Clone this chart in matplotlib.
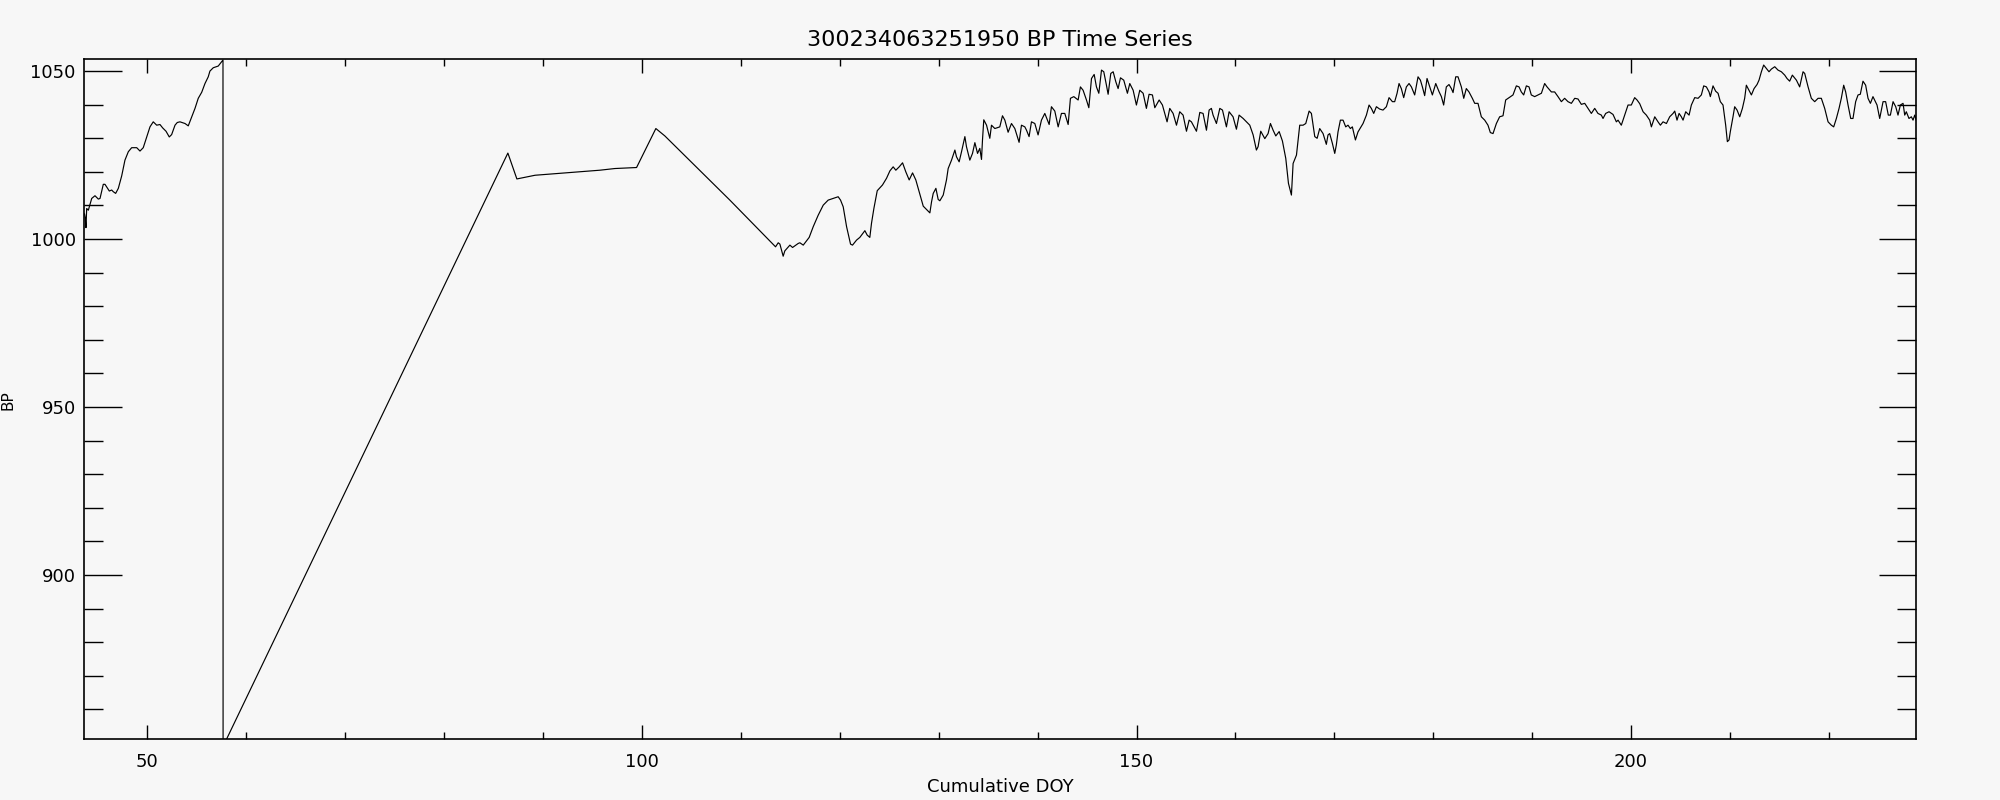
import matplotlib
matplotlib.use("Agg")
import matplotlib.pyplot as plt
from matplotlib.ticker import MultipleLocator

# data (cumulative day of year, barometric pressure)
doy_early = [43.65, 43.73, 43.80, 43.87, 44.04, 44.38, 44.71, 45.05, 45.22, 45.55, 45.72,
             46.16, 46.40, 46.56, 46.80, 47.07, 47.41, 47.74, 48.08, 48.42, 48.93, 49.26,
             49.59, 49.94, 50.27, 50.60, 50.95, 51.28, 51.55, 51.89, 52.22, 52.46, 52.80,
             53.03, 53.30, 53.81, 54.14, 54.49, 54.82, 55.15, 55.50, 55.83, 56.16, 56.33,
             56.67, 57.17, 57.52, 57.65]
bp_early = [1007.5, 1006.2, 1003.4, 1009.1, 1008.6, 1012.1, 1012.9, 1011.9, 1012.1, 1016.3,
            1016.3, 1014.3, 1014.6, 1014.1, 1013.6, 1015.1, 1018.8, 1023.5, 1026.0, 1027.2,
            1027.2, 1026.2, 1027.2, 1030.4, 1033.4, 1034.9, 1033.9, 1034.1, 1033.1, 1032.1,
            1030.4, 1031.1, 1033.9, 1034.7, 1034.9, 1034.4, 1033.7, 1036.4, 1038.9, 1041.9,
            1043.7, 1046.3, 1048.3, 1050.0, 1051.0, 1051.5, 1052.8, 1053.3]

# sparse stretch after the dropout
doy_gap = [57.66, 86.45, 87.36, 89.20]
bp_gap = [849.0, 1025.6, 1017.9, 1019.0]

doy_mid = [95.75, 97.27, 99.46, 101.41, 102.32, 108.89,
           113.51, 113.78, 113.95, 114.28, 114.45, 114.96, 115.23, 115.80, 115.97,
           116.31, 116.91, 117.32, 117.82, 118.33, 118.83, 119.34, 119.84, 120.08, 120.35,
           120.69, 121.09, 121.29, 121.70, 122.03, 122.54, 122.77, 123.04, 123.21, 123.45,
           123.79, 124.32, 124.73, 125.07, 125.40, 125.67, 126.01, 126.35, 126.68, 127.02,
           127.36, 127.69, 128.03, 128.44, 129.11, 129.28, 129.45, 129.72, 129.95, 130.12,
           130.46, 130.79, 130.96, 131.30, 131.64, 131.80, 132.07, 132.31, 132.65, 132.81,
           133.15, 133.42, 133.66, 133.93, 134.16, 134.33, 134.43, 134.56, 134.84, 135.17,
           135.34, 135.68]
bp_mid = [1020.5, 1021.0, 1021.3, 1032.9, 1030.7, 1011.6,
          997.7, 998.9, 998.5, 994.9, 996.5, 998.2, 997.5, 998.7, 998.9,
          998.2, 1000.5, 1003.7, 1007.1, 1010.1, 1011.6, 1012.1, 1012.6, 1011.6, 1009.6,
          1003.7, 998.5, 998.2, 999.7, 1000.5, 1002.5, 1001.2, 1000.5, 1004.7, 1009.1,
          1014.4, 1016.1, 1018.1, 1020.3, 1021.5, 1020.5, 1021.5, 1022.7, 1020.0, 1017.6,
          1019.7, 1017.6, 1014.1, 1009.8, 1007.8, 1011.1, 1013.6, 1015.1, 1011.8, 1011.4,
          1013.1, 1017.6, 1021.0, 1023.5, 1026.5, 1024.5, 1023.0, 1026.0, 1030.5, 1027.5,
          1023.5, 1025.5, 1028.7, 1025.5, 1027.0, 1023.7, 1029.5, 1035.5, 1033.9, 1030.0,
          1033.9, 1032.9]

doy_late1 = [136.18, 136.45, 136.69, 137.02, 137.36, 137.70, 137.86, 138.13, 138.37, 138.71,
             138.88, 139.14, 139.38, 139.72, 140.05, 140.39, 140.73, 141.07, 141.17, 141.40,
             141.74, 142.08, 142.41, 142.75, 143.09, 143.32, 143.66, 144.10, 144.33, 144.60,
             144.94, 145.18, 145.45, 145.72, 145.95, 146.19, 146.46, 146.69, 146.96, 147.13,
             147.40, 147.64, 147.91, 148.14, 148.38, 148.71, 149.08, 149.32, 149.66, 149.99,
             150.33, 150.67, 151.00, 151.27, 151.61, 151.85, 152.29, 152.62, 152.86, 153.09,
             153.36, 153.70, 154.04, 154.37, 154.71, 155.05, 155.32, 155.55, 156.06, 156.40,
             156.73, 157.07, 157.34, 157.57, 157.74, 158.08, 158.42, 158.69, 159.09, 159.36,
             159.76, 160.10, 160.37, 160.78, 161.11, 161.45, 161.79, 162.12, 162.29, 162.56,
             162.97, 163.30, 163.54, 163.81, 164.08, 164.42, 164.75, 165.09, 165.36, 165.66,
             165.83, 166.17, 166.50, 166.84, 167.11, 167.45, 167.68, 168.02, 168.26]
bp_late1 = [1033.4, 1036.7, 1035.4, 1031.8, 1034.4, 1032.9, 1031.4, 1028.8, 1033.9, 1033.4,
            1032.4, 1030.5, 1034.9, 1034.4, 1031.0, 1035.4, 1037.4, 1034.9, 1034.1, 1039.4,
            1038.1, 1033.4, 1037.4, 1037.4, 1034.1, 1041.9, 1042.4, 1041.4, 1045.3, 1044.3,
            1041.4, 1039.1, 1047.8, 1049.0, 1045.3, 1043.4, 1050.3, 1049.8, 1045.8, 1043.1,
            1049.3, 1049.8, 1046.8, 1044.8, 1048.0, 1047.3, 1043.4, 1046.3, 1044.3, 1039.9,
            1044.3, 1043.4, 1038.9, 1043.1, 1042.9, 1039.1, 1041.4, 1039.9, 1037.4, 1034.9,
            1038.9, 1037.4, 1033.9, 1037.9, 1036.9, 1032.1, 1035.4, 1034.9, 1032.1, 1037.7,
            1037.4, 1032.4, 1038.4, 1038.9, 1036.9, 1034.4, 1038.9, 1038.4, 1033.4, 1037.9,
            1036.4, 1032.7, 1036.9, 1035.9, 1034.9, 1033.9, 1031.0, 1026.5, 1027.5, 1032.1,
            1029.9, 1031.4, 1034.4, 1032.4, 1030.7, 1032.0, 1029.2, 1024.0, 1016.6, 1013.1,
            1022.5, 1025.0, 1033.9, 1033.9, 1034.4, 1038.1, 1037.4, 1030.5, 1030.0]

doy_late2 = [168.52, 168.86, 169.19, 169.36, 169.53, 169.80, 170.04, 170.20, 170.37, 170.61,
             170.88, 171.15, 171.38, 171.62, 171.82, 172.13, 172.39, 172.90, 173.24, 173.51,
             173.74, 173.98, 174.25, 174.58, 174.92, 175.26, 175.53, 175.87, 176.10, 176.34,
             176.54, 176.77, 177.01, 177.28, 177.55, 177.79, 178.12, 178.46, 178.70, 178.90,
             179.13, 179.37, 179.64, 179.91, 180.25, 180.58, 180.82, 181.05, 181.32, 181.59,
             181.83, 182.00, 182.27, 182.50, 182.84, 183.08, 183.34, 183.61, 183.95, 184.19,
             184.52, 184.86, 185.20, 185.53, 185.77, 186.04, 186.38, 186.71, 187.05, 187.32,
             187.66, 188.06, 188.40, 188.67, 188.90, 189.14, 189.41, 189.68, 189.91, 190.25,
             190.59, 190.93, 191.26, 191.50, 191.94, 192.27, 192.61, 192.95, 193.28, 193.62,
             193.96, 194.30, 194.63, 194.97, 195.31, 195.64, 195.98, 196.32, 196.65, 196.99,
             197.16, 197.43, 197.77, 198.17, 198.51, 198.68, 199.01, 199.35, 199.69, 200.02,
             200.36, 200.60, 200.87]
bp_late2 = [1032.9, 1031.4, 1028.2, 1031.0, 1031.4, 1028.5, 1025.5, 1028.0, 1031.9, 1035.4,
            1035.4, 1033.4, 1033.9, 1032.9, 1033.4, 1029.5, 1031.9, 1034.4, 1036.9, 1039.9,
            1038.9, 1037.4, 1039.4, 1038.7, 1038.4, 1039.4, 1042.1, 1040.9, 1040.9, 1043.4,
            1046.3, 1044.8, 1042.1, 1045.3, 1046.3, 1045.3, 1042.9, 1048.3, 1047.3, 1045.3,
            1042.7, 1047.8, 1045.3, 1042.9, 1046.3, 1043.9, 1042.4, 1039.9, 1045.3, 1046.0,
            1044.8, 1043.6, 1048.3, 1048.3, 1045.3, 1041.9, 1044.8, 1043.8, 1041.9, 1040.4,
            1040.4, 1036.4, 1035.4, 1033.9, 1031.7, 1031.4, 1034.4, 1036.4, 1036.7, 1041.4,
            1042.1, 1042.9, 1045.6, 1045.3, 1043.8, 1042.9, 1045.6, 1045.3, 1042.9, 1042.4,
            1042.9, 1043.4, 1046.3, 1045.3, 1043.8, 1043.8, 1042.4, 1040.9, 1041.9, 1040.9,
            1040.4, 1041.9, 1041.7, 1040.1, 1040.4, 1038.9, 1037.4, 1038.9, 1037.4, 1036.9,
            1035.9, 1037.4, 1037.9, 1037.1, 1034.9, 1035.4, 1033.9, 1036.9, 1039.9, 1039.9,
            1042.1, 1041.4, 1040.3]

doy_late3 = [201.21, 201.54, 201.88, 202.05, 202.39, 202.72, 202.96, 203.23, 203.57, 203.90,
             204.24, 204.41, 204.64, 204.85, 205.08, 205.25, 205.52, 205.86, 206.09, 206.43,
             206.77, 207.10, 207.34, 207.61, 207.88, 208.01, 208.28, 208.55, 208.79, 209.02,
             209.29, 209.56, 209.73, 209.90, 210.03, 210.30, 210.47, 210.71, 210.98, 211.25,
             211.48, 211.65, 211.92, 212.16, 212.43, 212.73, 212.93, 213.17, 213.40, 213.67,
             213.94, 214.18, 214.52, 214.85, 215.19, 215.53, 215.76, 216.03, 216.30, 216.71,
             217.04, 217.38, 217.55, 217.89, 218.22, 218.56, 218.90, 219.23, 219.57, 219.91,
             220.24, 220.48, 220.75, 221.02, 221.25, 221.49, 221.69, 221.93, 222.20, 222.43,
             222.70, 222.94, 223.17, 223.44, 223.71, 223.95, 224.19, 224.45, 224.86, 225.13,
             225.47, 225.73, 226.00, 226.21, 226.48, 226.75, 226.98, 227.22, 227.49, 227.66,
             227.82, 228.09, 228.33, 228.50, 228.67, 228.84]
bp_late3 = [1037.9, 1036.9, 1035.4, 1033.4, 1036.4, 1034.9, 1033.9, 1034.9, 1034.4, 1036.4,
            1037.4, 1038.1, 1035.4, 1037.4, 1036.4, 1035.4, 1037.9, 1036.9, 1039.9, 1042.1,
            1041.9, 1042.9, 1045.6, 1045.3, 1043.8, 1042.4, 1045.6, 1044.0, 1043.4, 1040.9,
            1039.9, 1033.9, 1029.0, 1029.5, 1032.0, 1036.4, 1039.4, 1038.4, 1036.4, 1038.9,
            1041.9, 1045.8, 1044.3, 1042.9, 1044.8, 1046.0, 1047.3, 1049.8, 1051.8, 1050.8,
            1049.8, 1050.6, 1051.3, 1050.3, 1049.8, 1048.8, 1047.8, 1047.0, 1048.8, 1047.3,
            1045.3, 1049.8, 1049.3, 1045.3, 1041.9, 1040.9, 1041.9, 1041.9, 1038.9, 1034.9,
            1033.9, 1033.4, 1035.9, 1038.9, 1041.9, 1045.8, 1043.8, 1039.9, 1035.9, 1035.9,
            1040.9, 1042.9, 1043.1, 1047.0, 1045.8, 1041.9, 1040.4, 1042.4, 1039.9, 1035.9,
            1040.9, 1040.9, 1036.9, 1036.9, 1040.9, 1039.4, 1036.9, 1039.9, 1040.4, 1036.9,
            1037.9, 1035.9, 1036.4, 1035.4, 1036.9, 1035.2]

doy = doy_early + doy_gap + doy_mid + doy_late1 + doy_late2 + doy_late3
bp = bp_early + bp_gap + bp_mid + bp_late1 + bp_late2 + bp_late3

bg = "#f7f7f7"
plt.rcParams["font.family"] = ["DejaVu Sans"]

fig = plt.figure(figsize=(20, 8), dpi=100, facecolor=bg)
ax = fig.add_axes([0.042, 0.07625, 0.916, 0.85])
ax.set_facecolor(bg)

ax.plot(doy, bp, color="black", linewidth=0.85)

ax.set_xlim(43.6, 228.8)
ax.set_ylim(851.2, 1053.6)

ax.xaxis.set_major_locator(MultipleLocator(50))
ax.xaxis.set_minor_locator(MultipleLocator(10))
ax.yaxis.set_major_locator(MultipleLocator(50))
ax.yaxis.set_minor_locator(MultipleLocator(10))

ax.tick_params(axis="x", which="major", direction="in", length=10, width=1,
               top=True, bottom=True, labelsize=13, pad=10)
ax.tick_params(axis="x", which="minor", direction="in", length=5, width=1,
               top=True, bottom=True)
ax.tick_params(axis="y", which="major", direction="in", length=27, width=1,
               left=True, right=True, labelsize=13, pad=6)
ax.tick_params(axis="y", which="minor", direction="in", length=13.5, width=1,
               left=True, right=True)

for sp in ax.spines.values():
    sp.set_linewidth(1.2)

ax.set_title("300234063251950 BP Time Series", fontsize=16, pad=9)
ax.set_xlabel("Cumulative DOY", fontsize=13, labelpad=5)
fig.text(0.004, 0.50, "BP", rotation=90, fontsize=11, ha="center", va="center")

fig.savefig("out.png", dpi=100, facecolor=bg)
